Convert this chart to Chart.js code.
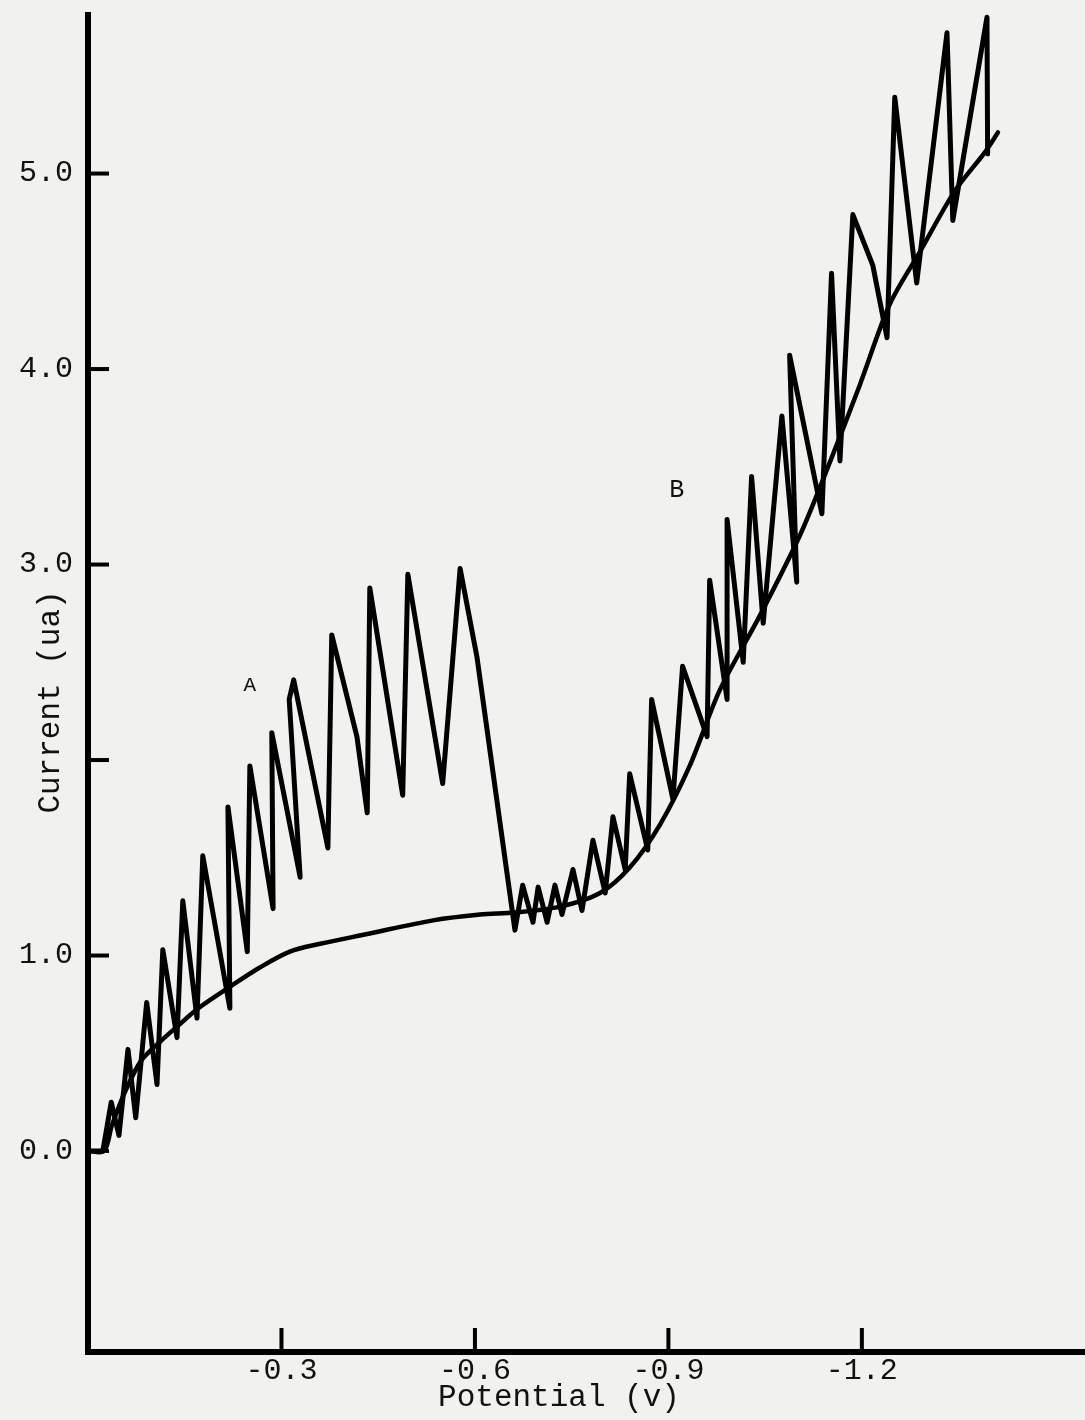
<!DOCTYPE html>
<html>
<head>
<meta charset="utf-8">
<title>Current vs Potential</title>
<script src="https://cdn.jsdelivr.net/npm/chart.js@4.4.1/dist/chart.umd.min.js"></script>
<style>
  html, body { margin: 0; padding: 0; background: #f1f1ef; }
  #wrap { width: 1085px; height: 1420px; }
</style>
</head>
<body>
<div id="wrap"><canvas id="polarogram" width="1085" height="1420"></canvas></div>
<script>
// Oscillating trace (A, then B): potential in volts, current in microamps
const tracePotential = [
  0, -0.023, -0.036, -0.048, -0.062, -0.074, -0.091, -0.107, -0.116, -0.138,
  -0.147, -0.169, -0.178, -0.220, -0.217, -0.247, -0.251, -0.287, -0.285, -0.329,
  -0.312, -0.319, -0.372, -0.378, -0.417, -0.433, -0.437, -0.488, -0.496, -0.550,
  -0.577, -0.603, -0.662, -0.674, -0.690, -0.698, -0.712, -0.724, -0.735, -0.752,
  -0.766, -0.783, -0.802, -0.814, -0.833, -0.840, -0.868, -0.874, -0.907, -0.922,
  -0.960, -0.964, -0.991, -0.991, -1.016, -1.029, -1.047, -1.076, -1.099, -1.088,
  -1.138, -1.153, -1.166, -1.186, -1.217, -1.239, -1.251, -1.285, -1.332, -1.341,
  -1.394, -1.395
];
const traceCurrent = [
  0, 0.00, 0.25, 0.08, 0.52, 0.17, 0.76, 0.34, 1.03, 0.58,
  1.28, 0.68, 1.51, 0.73, 1.76, 1.02, 1.97, 1.24, 2.14, 1.40,
  2.31, 2.41, 1.55, 2.64, 2.12, 1.73, 2.88, 1.82, 2.95, 1.88,
  2.98, 2.53, 1.13, 1.36, 1.17, 1.35, 1.17, 1.36, 1.21, 1.44,
  1.23, 1.59, 1.32, 1.71, 1.44, 1.93, 1.54, 2.31, 1.80, 2.48,
  2.12, 2.92, 2.31, 3.23, 2.50, 3.45, 2.70, 3.76, 2.91, 4.07,
  3.26, 4.49, 3.53, 4.79, 4.53, 4.16, 5.39, 4.44, 5.72, 4.76,
  5.80, 5.10
];

// Smooth mean curve
const smoothPotential = [
  0, -0.025, -0.037, -0.057, -0.082, -0.112, -0.136, -0.171, -0.220, -0.267,
  -0.313, -0.360, -0.433, -0.535, -0.608, -0.662, -0.732, -0.794, -0.840, -0.887,
  -0.933, -0.980, -1.042, -1.104, -1.150, -1.197, -1.243, -1.290, -1.344, -1.391,
  -1.411
];
const smoothCurrent = [
  0, 0.00, 0.13, 0.30, 0.46, 0.56, 0.63, 0.73, 0.84, 0.94,
  1.02, 1.06, 1.11, 1.18, 1.21, 1.22, 1.25, 1.32, 1.45, 1.67,
  1.97, 2.36, 2.74, 3.15, 3.52, 3.92, 4.33, 4.60, 4.91, 5.11,
  5.21
];

// Axis ticks
const xTickValues = [-0.3, -0.6, -0.9, -1.2];
const xTickLabels = ['-0.3', '-0.6', '-0.9', '-1.2'];
const yTickValues = [0, 1, 2, 3, 4, 5];
const yTickLabels = ['0.0', '1.0', '', '3.0', '4.0', '5.0'];

// Curve labels
const curveLabels = ['A', 'B'];
const curveLabelPotential = [-0.251, -0.913];
const curveLabelCurrent = [2.38, 3.38];

const INK = '#111111';
const TYPE = '"Liberation Mono", "DejaVu Sans Mono", monospace';

const toPoints = (xs, ys) => xs.map((v, i) => ({ x: v, y: ys[i] }));

const paper = {
  id: 'paper',
  beforeDraw(chart) {
    const { ctx, width, height } = chart;
    ctx.save();
    ctx.fillStyle = '#f1f1ef';
    ctx.fillRect(0, 0, width, height);
    ctx.restore();
  }
};

const marks = {
  id: 'marks',
  afterDraw(chart) {
    const { ctx, chartArea, scales } = chart;
    const xs = scales.x, ys = scales.y;
    ctx.save();
    ctx.strokeStyle = '#000';
    ctx.lineWidth = 4;
    ctx.lineCap = 'butt';
    // inward tick marks
    yTickValues.forEach(v => {
      const py = ys.getPixelForValue(v);
      ctx.beginPath();
      ctx.moveTo(chartArea.left, py);
      ctx.lineTo(chartArea.left + 21, py);
      ctx.stroke();
    });
    xTickValues.forEach(v => {
      const px = xs.getPixelForValue(v);
      ctx.beginPath();
      ctx.moveTo(px, chartArea.bottom);
      ctx.lineTo(px, chartArea.bottom - 24);
      ctx.stroke();
    });
    // axis titles
    ctx.fillStyle = INK;
    ctx.textAlign = 'center';
    ctx.textBaseline = 'middle';
    ctx.font = '31px ' + TYPE;
    ctx.fillText('Potential (v)', 559, 1398);
    ctx.save();
    ctx.translate(51, 702);
    ctx.rotate(-Math.PI / 2);
    ctx.fillText('Current (ua)', 0, 0);
    ctx.restore();
    // curve labels
    curveLabels.forEach((t, i) => {
      ctx.font = (i === 0 ? '21px ' : '25px ') + TYPE;
      ctx.fillText(t, xs.getPixelForValue(curveLabelPotential[i]), ys.getPixelForValue(curveLabelCurrent[i]));
    });
    ctx.restore();
  }
};

new Chart(document.getElementById('polarogram'), {
  type: 'scatter',
  data: {
    datasets: [
      {
        label: 'Trace',
        data: toPoints(tracePotential, traceCurrent),
        showLine: true,
        borderColor: '#000',
        borderWidth: 5,
        pointRadius: 0,
        tension: 0,
        borderJoinStyle: 'round',
        borderCapStyle: 'round',
        clip: false
      },
      {
        label: 'Mean',
        data: toPoints(smoothPotential, smoothCurrent),
        showLine: true,
        borderColor: '#000',
        borderWidth: 4.5,
        pointRadius: 0,
        tension: 0.3,
        borderJoinStyle: 'round',
        borderCapStyle: 'round',
        clip: false
      }
    ]
  },
  options: {
    responsive: false,
    animation: false,
    devicePixelRatio: 1,
    layout: { padding: { top: 15, right: 0, bottom: 0, left: 0 } },
    plugins: {
      legend: { display: false },
      tooltip: { enabled: false },
      title: { display: false }
    },
    scales: {
      x: {
        type: 'linear',
        reverse: true,
        min: -1.546,
        max: 0,
        afterFit: s => { s.height = 68; s.paddingLeft = 0; s.paddingRight = 0; },
        afterBuildTicks: s => { s.ticks = xTickValues.map(v => ({ value: v })); },
        grid: { display: false, drawTicks: false },
        border: { display: true, color: '#000', width: 6 },
        ticks: {
          padding: 1,
          color: INK,
          font: { family: TYPE, size: 30 },
          maxRotation: 0,
          autoSkip: false,
          callback: v => xTickLabels[xTickValues.indexOf(v)] ?? ''
        }
      },
      y: {
        type: 'linear',
        min: -1.028,
        max: 5.811,
        afterFit: s => { s.width = 88; s.paddingTop = 0; s.paddingBottom = 0; },
        afterBuildTicks: s => { s.ticks = yTickValues.map(v => ({ value: v })); },
        grid: { display: false, drawTicks: false },
        border: { display: true, color: '#000', width: 6 },
        ticks: {
          padding: 15,
          color: INK,
          font: { family: TYPE, size: 30 },
          autoSkip: false,
          callback: v => yTickLabels[yTickValues.indexOf(v)] ?? ''
        }
      }
    }
  },
  plugins: [paper, marks]
});
</script>
</body>
</html>
